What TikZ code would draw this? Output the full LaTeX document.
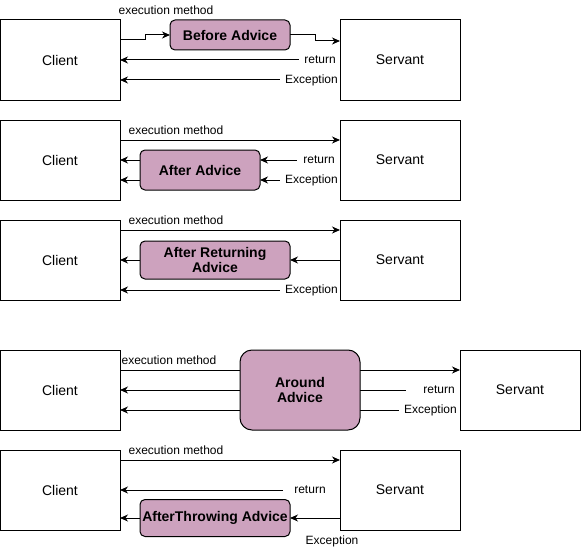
\documentclass[tikz,border=0pt]{standalone}
\usepackage{fontspec}
\setmainfont{Liberation Sans}
\usetikzlibrary{arrows.meta}
\pgfdeclarelayer{back}
\pgfsetlayers{back,main}
\definecolor{advfill}{HTML}{CDA2BE}
\tikzset{
  box/.style={draw, line width=1pt, fill=white, minimum width=120pt, minimum height=80pt, inner sep=0pt, outer sep=0pt, font=\fontsize{14}{16}\selectfont},
  adv/.style={draw, line width=1pt, fill=advfill, rounded corners=5pt, inner sep=0pt, outer sep=0pt, align=center, font=\fontsize{14}{15}\selectfont\bfseries},
  lbl/.style={inner sep=1pt, font=\fontsize{12}{14}\selectfont},
  wlbl/.style={lbl, fill=white, inner xsep=5pt, anchor=east},
  arr/.style={line width=1pt, -{Stealth[length=8pt,width=7pt,inset=2.5pt]}},
  ln/.style={line width=1pt}
}
\begin{document}
\begin{tikzpicture}[x=1pt,y=-1pt]
\useasboundingbox (0,0) rectangle (581,551);
\foreach \v in {35,40,41,60,80,140,160,180,230,260,290,370,390,410,460,490,518}{\coordinate (y\v) at (0,\v);}
% ---------- boxes
\node[box] (c1) at (60,60) {Client};
\node[box] (s1) at (400,60) {Servant};
\node[adv, minimum width=120pt, minimum height=30pt] (ba) at (230,35) {Before Advice};
\node[box] (c2) at (60,160) {Client};
\node[box] (s2) at (400,160) {Servant};
\node[adv, minimum width=120pt, minimum height=40pt] (aa) at (200,170) {After Advice};
\node[box] (c3) at (60,260) {Client};
\node[box] (s3) at (400,260) {Servant};
\node[adv, minimum width=150pt, minimum height=38pt] (ar) at (215,260) {After Returning\\Advice};
\node[box] (c4) at (60,390) {Client};
\node[box] (s4) at (520,390) {Servant};
\node[adv, rounded corners=12pt, minimum width=120pt, minimum height=80pt] (ad) at (300,390) {Around\\Advice};
\node[box] (c5) at (60,490) {Client};
\node[box] (s5) at (400,490) {Servant};
\node[adv, minimum width=150pt, minimum height=37pt] (at) at (215,518) {AfterThrowing Advice};
\begin{pgfonlayer}{back}
% ---------- Row 1: Before Advice
\node[lbl] (e1) at (166,10) {execution method};
\coordinate (b1a) at (145,40);
\coordinate (b1b) at (145,35);
\coordinate (b1c) at (315,35);
\coordinate (b1d) at (315,41);
\draw[arr] (c1.east |- y40) -- (b1a) -- (b1b) -- (ba.west);
\draw[arr] (ba.east) -- (b1c) -- (b1d) -- (s1.west |- y41);
\draw[arr] (s1.west |- y60) -- (c1.east |- y60);
\draw[arr] (s1.west |- y80) -- (c1.east |- y80);
\node[wlbl] (r1) at (341,60) {return};
\node[wlbl] (x1) at (343,80) {Exception};
% ---------- Row 2: After Advice
\node[lbl] (e2) at (176,130) {execution method};
\draw[arr] (c2.east |- y140) -- (s2.west |- y140);
\draw[arr] (s2.west |- y160) -- (aa.east |- y160);
\draw[arr] (s2.west |- y180) -- (aa.east |- y180);
\draw[arr] (aa.west |- y160) -- (c2.east |- y160);
\draw[arr] (aa.west |- y180) -- (c2.east |- y180);
\node[wlbl, inner xsep=6pt] (r2) at (341,160) {return};
\node[wlbl] (x2) at (343,180) {Exception};
% ---------- Row 3: After Returning Advice
\node[lbl] (e3) at (176,220) {execution method};
\draw[arr] (c3.east |- y230) -- (s3.west |- y230);
\draw[arr] (s3.west |- y260) -- (ar.east |- y260);
\draw[arr] (ar.west |- y260) -- (c3.east |- y260);
\draw[arr] (s3.west |- y290) -- (c3.east |- y290);
\node[wlbl] (x3) at (343,290) {Exception};
% ---------- Row 4: Around Advice
\node[lbl] (e4) at (169,360) {execution method};
\draw[ln] (c4.east |- y370) -- (ad.west |- y370);
\draw[arr] (ad.east |- y370) -- (s4.west |- y370);
\draw[ln] (s4.west |- y390) -- (ad.east |- y390);
\draw[ln] (s4.west |- y410) -- (ad.east |- y410);
\draw[arr] (ad.west |- y390) -- (c4.east |- y390);
\draw[arr] (ad.west |- y410) -- (c4.east |- y410);
\node[wlbl, inner xsep=17pt] (r4) at (472,390) {return};
\node[wlbl] (x4) at (462,410) {Exception};
% ---------- Row 5: AfterThrowing Advice
\node[lbl] (e5) at (176,450) {execution method};
\coordinate (r5s) at (283,490);
\draw[arr] (c5.east |- y460) -- (s5.west |- y460);
\draw[arr] (r5s) -- (c5.east |- y490);
\node[lbl] (r5) at (310,490) {return};
\draw[arr] (s5.west |- y518) -- (at.east);
\draw[arr] (at.west) -- (c5.east |- y518);
\node[lbl] (x5) at (332,541) {Exception};
\end{pgfonlayer}
\end{tikzpicture}
\end{document}
